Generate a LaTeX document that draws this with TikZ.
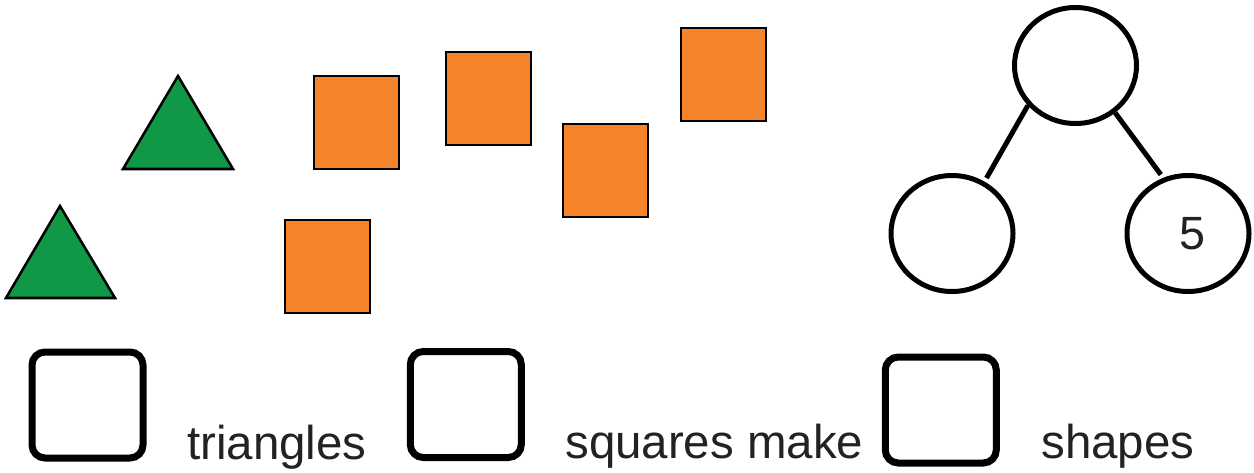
\documentclass[tikz,border=0pt]{standalone}
\usepackage{fontspec}
\setmainfont{Liberation Sans}
\usetikzlibrary{shapes.geometric}

\definecolor{trigreen}{HTML}{119846}
\definecolor{sqorange}{HTML}{F5842B}
\definecolor{textgray}{HTML}{222222}

\tikzset{
  tri/.style={fill=trigreen, draw=black, line width=1.9pt, line join=miter},
  sq/.style={fill=sqorange, draw=black, line width=1.9pt},
  bond/.style={ellipse, draw=black, line width=3.75pt, inner sep=0pt, minimum width=91.5pt, minimum height=87pt, text=textgray, font=\fontsize{35pt}{40pt}\selectfont},
  link/.style={line width=3.75pt},
  answerbox/.style={draw=black, line width=5.25pt, rounded corners=9.75pt, inner sep=0pt, minimum width=83.25pt, minimum height=79.5pt},
  word/.style={anchor=base west, inner sep=0pt, text=textgray, font=\fontsize{35.6pt}{40pt}\selectfont}
}

\begin{document}
\begin{tikzpicture}[x=0.75pt,y=0.75pt,yscale=-1,xscale=1]
            \useasboundingbox (0,0) rectangle (1254,472);

            % Triangles
            \draw[tri] (178,76) -- (233,169) -- (123,169) -- cycle;
            \draw[tri] (60,206) -- (115,298) -- (6,298) -- cycle;

            % Squares
            \draw[sq] (314,76) rectangle (399,169);
            \draw[sq] (446,52) rectangle (531,145);
            \draw[sq] (563,124) rectangle (648,217);
            \draw[sq] (681,28) rectangle (766,121);
            \draw[sq] (285,220) rectangle (370,313);

            % Number bond
            \node[bond] (whole) at (1075.5,65.5) {};
            \node[bond] (partl) at (952,233.5) {};
            \node[bond] (partr) at (1188,233.5) {\hspace*{7pt}5};
            \draw[link, shorten >=3pt] (whole.220) -- (partl.58);
            \draw[link, shorten >=3pt] (whole.310) -- (partr.114);

            % Answer boxes
            \node[answerbox] (boxtri) at (87.5,405) {};
            \node[answerbox] (boxsq) at (465.8,404.5) {};
            \node[answerbox] (boxall) at (940.8,410) {};

            % Labels
            \draw (187,459) node [word] {triangles};
            \draw (565,458) node [word] {squares make};
            \draw (1041,458) node [word] {shapes};

\end{tikzpicture}
\end{document}
